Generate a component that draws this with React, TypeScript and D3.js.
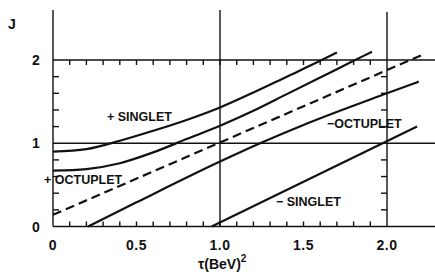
import React from "react";
import * as d3 from "d3";

// Regge trajectories, J against tau (BeV)^2
const plusSingletTau = [0, 0.2, 0.4, 0.6, 0.8, 1.0, 1.2, 1.4, 1.6, 1.7];
const plusSingletJ = [0.9, 0.93, 1.03, 1.15, 1.28, 1.43, 1.61, 1.8, 1.99, 2.09];

const plusOctupletTau = [0, 0.2, 0.4, 0.6, 0.8, 1.0, 1.2, 1.4, 1.6, 1.8, 1.91];
const plusOctupletJ = [0.67, 0.69, 0.76, 0.89, 1.05, 1.21, 1.39, 1.59, 1.79, 1.99, 2.1];

const dashedTau = [0, 2.22];
const dashedJ = [0.14, 2.07];

const minusOctupletTau = [0.21, 0.5, 1.0, 1.24, 1.5, 2.0, 2.19];
const minusOctupletJ = [0, 0.29, 0.78, 1.0, 1.22, 1.6, 1.74];

const minusSingletTau = [0.95, 2.18];
const minusSingletJ = [0, 1.2];

const xTickLabels = ["0", "0.5", "1.0", "1.5", "2.0"];
const yTickLabels = ["0", "1", "2"];

const W = 435;
const H = 280;
const font = "'Liberation Sans', Arial, sans-serif";

export default function App() {
  const x = d3.scaleLinear().domain([0, 2]).range([53, 387]);
  const y = d3.scaleLinear().domain([0, 2]).range([226.5, 60]);
  const xMax = x.invert(W);
  const yTop = y.invert(10);

  const line = d3
    .line<[number, number]>()
    .x((d) => x(d[0]))
    .y((d) => y(d[1]))
    .curve(d3.curveMonotoneX);

  const zip = (a: number[], b: number[]) => a.map((v, i) => [v, b[i]] as [number, number]);

  const curves = [
    { pts: zip(plusSingletTau, plusSingletJ), dash: null },
    { pts: zip(plusOctupletTau, plusOctupletJ), dash: null },
    { pts: zip(dashedTau, dashedJ), dash: "9,5" },
    { pts: zip(minusOctupletTau, minusOctupletJ), dash: null },
    { pts: zip(minusSingletTau, minusSingletJ), dash: null },
  ];

  const xMinor = d3.range(1, 20).map((i) => i / 10);
  const yMinor = [0.2, 0.4, 0.6, 0.8, 1.2, 1.4, 1.6, 1.8];
  const tick = 5;
  const ink = "#111";

  return (
    <svg
      width={W}
      height={H}
      style={{ position: "absolute", left: 0, top: 0, background: "#fff" }}
    >
      <g stroke={ink} strokeWidth={1.4} fill="none">
        {/* frame lines */}
        <line x1={x(0)} x2={x(0)} y1={y(yTop)} y2={y(0)} />
        <line x1={x(1)} x2={x(1)} y1={y(yTop)} y2={y(0)} />
        <line x1={x(2)} x2={x(2)} y1={y(yTop) + 2} y2={y(0)} />
        <line x1={x(0)} x2={x(xMax)} y1={y(2)} y2={y(2)} />
        <line x1={x(0)} x2={x(xMax)} y1={y(1)} y2={y(1)} />
        <line x1={x(0)} x2={x(xMax)} y1={y(0)} y2={y(0)} />
        {/* ticks */}
        {xMinor.map((t) => (
          <g key={"x" + t}>
            <line x1={x(t)} x2={x(t)} y1={y(2)} y2={y(2) + tick} />
            <line x1={x(t)} x2={x(t)} y1={y(0)} y2={y(0) - tick} />
          </g>
        ))}
        {yMinor.map((t) => (
          <g key={"y" + t}>
            <line x1={x(0)} x2={x(0) + tick + 1} y1={y(t)} y2={y(t)} />
            <line x1={x(2)} x2={x(2) - tick - 1} y1={y(t)} y2={y(t)} />
          </g>
        ))}
      </g>

      <g stroke={ink} strokeWidth={2.2} fill="none">
        {curves.map((c, i) => (
          <path key={i} d={line(c.pts) || ""} strokeDasharray={c.dash || undefined} />
        ))}
      </g>

      <g fill={ink} fontFamily={font} fontWeight="bold" fontSize={14}>
        {xTickLabels.map((l) => (
          <text key={l} x={x(+l)} y={250} textAnchor="middle" letterSpacing={0.5}>
            {l}
          </text>
        ))}
        {yTickLabels.map((l) => (
          <text key={l} x={36} y={y(+l) + 5} textAnchor="middle">
            {l}
          </text>
        ))}
        <text x={12} y={29} textAnchor="middle">J</text>
        <text x={198} y={269} fontSize={14}>
          τ(BeV)
          <tspan dy={-7} fontSize={10}>2</tspan>
        </text>
      </g>

      <g fill={ink} fontFamily={font} fontWeight="bold" fontSize={12.5}>
        <text x={107} y={121}>+ SINGLET</text>
        <text x={44} y={184}>+ OCTUPLET</text>
        <text x={327} y={128}>−OCTUPLET</text>
        <text x={276} y={206}>− SINGLET</text>
      </g>
    </svg>
  );
}
